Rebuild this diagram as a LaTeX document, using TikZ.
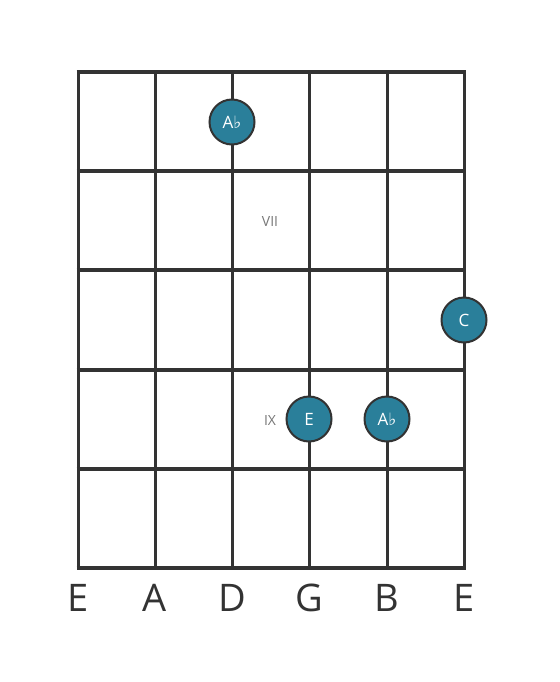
\documentclass[tikz,border=0pt]{standalone}
\usepackage{fontspec}
\setmainfont{Open Sans}
\newfontfamily\symfont{DejaVu Sans}
\definecolor{ink}{HTML}{333333}
\definecolor{dotfill}{HTML}{2A7F9A}
\definecolor{roman}{HTML}{777777}
\newcommand{\flt}{{\symfont\char"266D}}
\begin{document}
\begin{tikzpicture}[x=1pt,y=-1pt,
  fret/.style={draw=ink,line width=4.5pt},
  stringline/.style={draw=ink,line width=3pt},
  notedot/.style={circle,draw=ink,line width=2pt,fill=dotfill,minimum size=45pt,inner sep=0pt,text=white,font=\fontsize{17}{17}\selectfont},
  strlabel/.style={text=ink,font=\fontsize{38}{38}\selectfont},
  fretnum/.style={text=roman,font=\fontsize{14}{14}\selectfont}]
\useasboundingbox (0,0) rectangle (559,682);
% strings
\foreach \x in {78,155,232,309,387,464} \draw[stringline] (\x,72) -- (\x,568);
% frets
\foreach \y in {72,171,270,370,469,568} \draw[fret] (76.5,\y) -- (465.5,\y);
% labels
\foreach \x/\l [count=\i] in {78/E,155/A,232/D,309/G,387/B,464/E}
  \node[strlabel] (s\i) at (\x,598) {\l};
\node[fretnum] (f7) at (270,222) {VII};
\node[fretnum] (f9) at (270,420) {IX};
% notes
\node[notedot] (n1) at (232,122) {A\flt};
\node[notedot] (n2) at (464,320) {C};
\node[notedot] (n3) at (309,419) {E};
\node[notedot] (n4) at (387,419) {A\flt};
\end{tikzpicture}
\end{document}
